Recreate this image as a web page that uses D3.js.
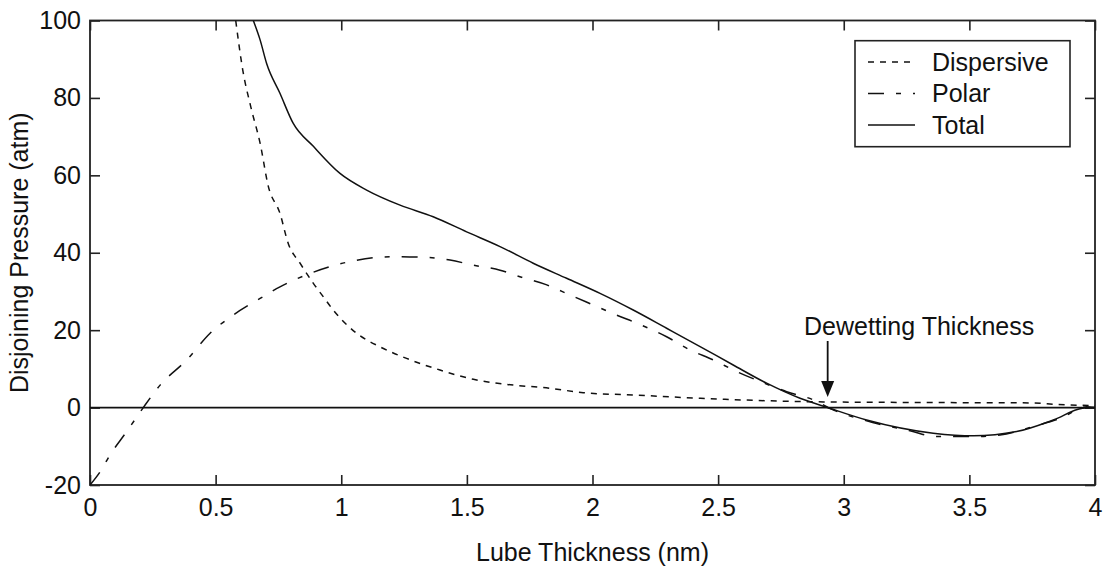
<!DOCTYPE html>
<html>
<head>
<meta charset="utf-8">
<script src="https://cdn.jsdelivr.net/npm/d3@7"></script>
<style>
  html, body { margin: 0; padding: 0; background: #fff; }
  svg { display: block; }
  text { font-family: Arial, "Liberation Sans", sans-serif; fill: #111; }
</style>
</head>
<body>
<svg id="chart" width="1104" height="569"></svg>
<script>
// Disjoining pressure components versus lubricant film thickness
const dispX = [0.58, 0.608, 0.64, 0.677, 0.71, 0.756, 0.789, 0.836, 0.889, 0.929, 0.968, 1.061, 1.154, 1.26, 1.393, 1.526, 1.658, 1.83, 1.963, 2.162, 2.43, 2.88, 3.355, 3.75, 3.85, 4.0];
const dispY = [100, 87.2, 77.7, 68.3, 57.1, 50.2, 42.4, 37.3, 32.1, 28.6, 25.2, 19.2, 15.7, 12.7, 9.7, 7.3, 6.0, 5.0, 3.85, 3.25, 2.4, 1.5, 1.3, 1.2, 0.8, 0.5];

const polarX = [0, 0.04, 0.08, 0.146, 0.212, 0.279, 0.385, 0.478, 0.57, 0.677, 0.756, 0.862, 0.955, 1.048, 1.141, 1.22, 1.34, 1.433, 1.526, 1.632, 1.711, 1.818, 1.91, 2.003, 2.096, 2.176, 2.295, 2.388, 2.481, 2.574, 2.68, 2.773, 2.879, 2.945, 3.131, 3.264, 3.37, 3.516, 3.622, 3.753, 3.861, 3.967, 4.0];
const polarY = [-20, -16.6, -12.2, -6.2, 0, 5.8, 12.3, 19.2, 23.9, 28.2, 31.2, 34.3, 36.4, 37.9, 38.8, 39.0, 38.8, 38.1, 36.8, 35.5, 33.8, 31.7, 29.1, 26.5, 23.9, 21.8, 18.3, 14.9, 12.3, 9.3, 6.4, 4.1, 2.0, -0.2, -4.1, -6.0, -7.5, -7.5, -7.1, -4.9, -2.8, 0.2, 0];

const totalX = [0.65, 0.677, 0.703, 0.756, 0.809, 0.889, 0.995, 1.101, 1.234, 1.366, 1.499, 1.632, 1.764, 1.897, 2.03, 2.162, 2.295, 2.43, 2.56, 2.693, 2.826, 2.932, 3.091, 3.356, 3.516, 3.688, 3.834, 3.95, 4.0];
const totalY = [100, 95, 88.9, 81.2, 73.4, 67.5, 60.5, 56.2, 52.3, 49.3, 45.4, 41.6, 37.3, 33.4, 29.5, 25.2, 20.5, 15.7, 11.0, 6.3, 2.4, 0.1, -3.2, -6.6, -7.3, -6.2, -3.2, -0.2, 0];

const xTicks = [0, 0.5, 1, 1.5, 2, 2.5, 3, 3.5, 4];
const yTicks = [-20, 0, 20, 40, 60, 80, 100];
const seriesNames = ["Dispersive", "Polar", "Total"];
const dewettingX = 2.936;
const dewettingLabel = "Dewetting Thickness";

const svg = d3.select("#chart");
const pLeft = 90, pRight = 1095, pTop = 20.5, pBottom = 485;
const fs = 25;

const x = d3.scaleLinear().domain([0, 4]).range([pLeft, pRight]);
const y = d3.scaleLinear().domain([-20, 100]).range([pBottom, pTop]);

svg.append("defs").append("clipPath").attr("id", "plotClip")
  .append("rect").attr("x", pLeft).attr("y", pTop)
  .attr("width", pRight - pLeft).attr("height", pBottom - pTop);

// plain ASCII number labels (hyphen for negatives)
const plainFmt = d => String(d);

// inward ticks on all four sides
const tickLen = 10;
const axisStyle = g => {
  g.select(".domain").remove();
  g.selectAll(".tick line").attr("stroke", "#222").attr("stroke-width", 1.6);
};
svg.append("g").attr("transform", `translate(0,${pBottom})`)
  .call(d3.axisBottom(x).tickValues(xTicks).tickSize(-tickLen).tickPadding(13).tickFormat(plainFmt))
  .call(axisStyle)
  .call(g => g.selectAll("text").attr("font-size", fs).attr("fill", "#111").attr("dy", "0.71em"));
svg.append("g").attr("transform", `translate(0,${pTop})`)
  .call(d3.axisTop(x).tickValues(xTicks).tickSize(-tickLen).tickFormat(""))
  .call(axisStyle);
svg.append("g").attr("transform", `translate(${pLeft},0)`)
  .call(d3.axisLeft(y).tickValues(yTicks).tickSize(-tickLen).tickPadding(9).tickFormat(plainFmt))
  .call(axisStyle)
  .call(g => g.selectAll("text").attr("font-size", fs).attr("fill", "#111"));
svg.append("g").attr("transform", `translate(${pRight},0)`)
  .call(d3.axisRight(y).tickValues(yTicks).tickSize(-tickLen).tickFormat(""))
  .call(axisStyle);

// plot frame
svg.append("rect").attr("x", pLeft).attr("y", pTop)
  .attr("width", pRight - pLeft).attr("height", pBottom - pTop)
  .attr("fill", "none").attr("stroke", "#222").attr("stroke-width", 1.8);

// zero line
svg.append("line").attr("x1", pLeft).attr("x2", pRight)
  .attr("y1", y(0)).attr("y2", y(0))
  .attr("stroke", "#111").attr("stroke-width", 1.6);

const line = d3.line().x(d => x(d[0])).y(d => y(d[1])).curve(d3.curveMonotoneX);
const dashes = { Dispersive: "6,6", Polar: "16,12,5,12", Total: null };
const seriesData = {
  Dispersive: d3.zip(dispX, dispY),
  Polar: d3.zip(polarX, polarY),
  Total: d3.zip(totalX, totalY)
};

const plot = svg.append("g").attr("clip-path", "url(#plotClip)");
seriesNames.forEach(name => {
  plot.append("path").datum(seriesData[name])
    .attr("d", line)
    .attr("fill", "none")
    .attr("stroke", "#111")
    .attr("stroke-width", 1.5)
    .attr("stroke-dasharray", dashes[name]);
});

// dewetting annotation
const ax = x(dewettingX);
svg.append("line").attr("x1", ax).attr("x2", ax)
  .attr("y1", 341).attr("y2", 384)
  .attr("stroke", "#111").attr("stroke-width", 1.8);
svg.append("path")
  .attr("d", `M${ax - 6.5},381 L${ax + 6.5},381 L${ax},397 Z`)
  .attr("fill", "#111");
svg.append("text").attr("x", 804).attr("y", 335)
  .attr("font-size", fs).text(dewettingLabel);

// legend
const lg = svg.append("g");
lg.append("rect").attr("x", 855).attr("y", 40.7).attr("width", 215).attr("height", 106)
  .attr("fill", "#fff").attr("stroke", "#222").attr("stroke-width", 1.6);
seriesNames.forEach((name, i) => {
  const ry = 62 + i * 31.5;
  lg.append("line").attr("x1", 868).attr("x2", 915).attr("y1", ry).attr("y2", ry)
    .attr("stroke", "#111").attr("stroke-width", 1.5)
    .attr("stroke-dasharray", dashes[name]);
  lg.append("text").attr("x", 932).attr("y", ry).attr("dy", "0.35em")
    .attr("font-size", fs).text(name);
});

// axis titles
svg.append("text").attr("x", (pLeft + pRight) / 2).attr("y", 552).attr("dy", "0.35em")
  .attr("text-anchor", "middle").attr("font-size", fs).text("Lube Thickness (nm)");
svg.append("text")
  .attr("transform", `translate(19,${(pTop + pBottom) / 2}) rotate(-90)`)
  .attr("dy", "0.35em").attr("text-anchor", "middle").attr("font-size", fs)
  .text("Disjoining Pressure (atm)");
</script>
</body>
</html>
